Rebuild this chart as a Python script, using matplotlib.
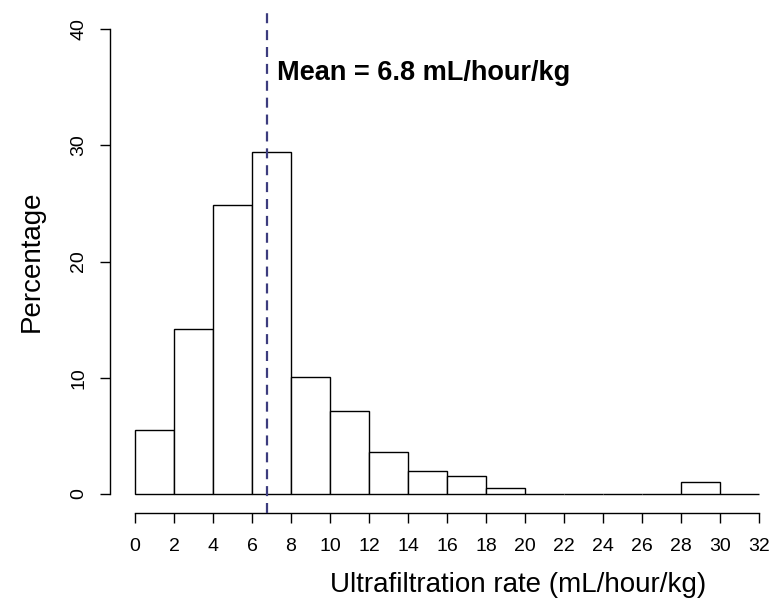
import matplotlib
matplotlib.use("Agg")
import matplotlib.pyplot as plt
import numpy as np

# Data
bin_edges = [0, 2, 4, 6, 8, 10, 12, 14, 16, 18, 20, 22, 24, 26, 28, 30, 32]
percentages = [5.5, 14.2, 24.9, 29.4, 10.1, 7.1, 3.6, 2.0, 1.5, 0.5, 0, 0, 0, 0, 1.0, 0]
mean_rate = 6.75
mean_label = "Mean = 6.8 mL/hour/kg"
x_ticks = list(range(0, 33, 2))
y_ticks = [0, 10, 20, 30, 40]

plt.rcParams['font.family'] = ['Liberation Sans', 'DejaVu Sans']

W, H = 778, 600
fig = plt.figure(figsize=(W / 100, H / 100), dpi=100)
# plot region in pixels: x 110..784, y 10.6..512.5 (from top)
left_px, right_px, top_px, bot_px = 110, 784, 10.6, 512.5
ax = fig.add_axes([left_px / W, 1 - bot_px / H, (right_px - left_px) / W, (bot_px - top_px) / H])
ax.set_xlim(-1.28, 33.28)
ax.set_ylim(-1.6, 41.6)

edges = np.array(bin_edges, dtype=float)
widths = np.diff(edges)
ax.bar(edges[:-1], percentages, width=widths, align='edge', facecolor='white',
       edgecolor='black', linewidth=1.0, zorder=2)

ax.axvline(mean_rate, color='#3c3c7e', linewidth=1.6, linestyle=(0, (4.5, 3.1)), zorder=3)

ax.text(7.3, 36.2, mean_label, fontsize=19.5, fontweight='bold', ha='left', va='center')

for s in ['top', 'right']:
    ax.spines[s].set_visible(False)
ax.spines['left'].set_bounds(0, 40)
ax.spines['bottom'].set_bounds(0, 32)
ax.spines['left'].set_linewidth(1.0)
ax.spines['bottom'].set_linewidth(1.0)

ax.set_xticks(x_ticks)
ax.set_yticks(y_ticks)
ax.tick_params(axis='both', direction='out', length=7.5, width=1.0, labelsize=14)
ax.tick_params(axis='x', pad=11)
ax.tick_params(axis='y', pad=9, labelrotation=90)
for lbl in ax.get_yticklabels():
    lbl.set_va('center')

ax.set_xlabel("Ultrafiltration rate (mL/hour/kg)", fontsize=20, labelpad=12)
ax.xaxis.label.set_x((518 - left_px) / (right_px - left_px))
ax.set_ylabel("Percentage", fontsize=20, labelpad=18)

fig.savefig("out.png", dpi=100)
